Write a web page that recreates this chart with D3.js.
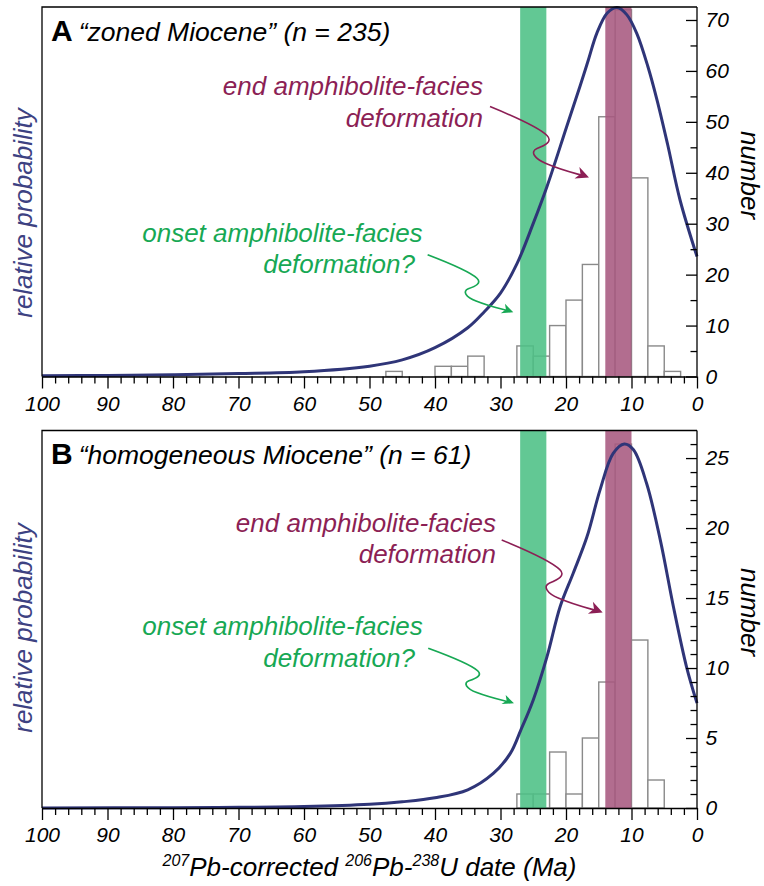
<!DOCTYPE html>
<html><head><meta charset="utf-8">
<script src="https://cdn.jsdelivr.net/npm/d3@7"></script>
<style>
body{margin:0;background:#fff;}
svg text{font-family:"Liberation Sans",Arial,Helvetica,sans-serif;}
</style></head><body>
<svg id="chart" width="764" height="886"></svg>
<script>
// ---------------- DATA ----------------
// histogram bins (upper edge of each 2.5 Ma bin, Ma)
const binUpper = [50,47.5,45,42.5,40,37.5,35,32.5,30,27.5,25,22.5,20,17.5,15,12.5,10,7.5,5,2.5];
const binWidth = 2.5;
const countsA = [0,1,0,0,2,2,4,0,0,6,4,10,15,22,51,72,39,6,1,0];
const countsB = [0,0,0,0,0,0,0,0,0,1,1,4,1,5,9,26,12,2,0,0];

// relative probability curves (age in Ma, probability relative to peak)
const curveAgeA  = [100,90,80,70,60,50,45,40,35,32.5,30,27.5,25,22.9,19.9,17.8,16.6,15.3,13.7,12.2,10.7,9.2,7.5,6.1,4.5,2.6,0];
const curveProbA = [0.002,0.003,0.005,0.008,0.013,0.028,0.045,0.078,0.132,0.175,0.226,0.305,0.415,0.515,0.677,0.79,0.857,0.93,0.985,1.0,0.98,0.93,0.84,0.749,0.63,0.479,0.325];
const curveAgeB  = [100,80,70,60,50,45,40,35,31.1,28.5,26.9,25,22.9,20.9,18.9,16.8,14.8,12.8,11.1,9.7,7.7,5.6,3.6,1.6,0];
const curveProbB = [0,0.001,0.002,0.004,0.010,0.017,0.028,0.05,0.095,0.15,0.214,0.297,0.416,0.553,0.645,0.745,0.874,0.974,1.0,0.984,0.892,0.736,0.553,0.388,0.288];

// axis ticks
const xTicksMajor = [100,90,80,70,60,50,40,30,20,10,0];
const yTicksA = [0,10,20,30,40,50,60,70];
const yTicksB = [0,5,10,15,20,25];

// deformation bands (Ma)
const bandOnset = [27,23];
const bandEnd = [14,10];

// titles
const panelLetters = ["A","B"];
const panelTitles = ["\u201Czoned Miocene\u201D (n = 235)","\u201Chomogeneous Miocene\u201D (n = 61)"];

// ---------------- DRAW ----------------
const svg = d3.select('#chart');
svg.append('rect').attr('width',764).attr('height',886).attr('fill','#fff');

const L = 42, R = 697;
const x = d3.scaleLinear().domain([100,0]).range([L,R]);

const navy = '#2f3578';
const green = '#4cc085', purple = '#a7597f';
const greenText = '#17a854', purpleText = '#8c1f55';

const panels = [
  {top:7, bottom:376.5, yMax:72.55, counts:countsA, age:curveAgeA, prob:curveProbA, peakY:7.5,
   yTicks:yTicksA, minorStep:5, yMinorMax:70, letter:panelLetters[0], title:panelTitles[0], titleY:41, probLabelY:213, numLabelY:175,
   ann:[
     {tip:[16.49,39.07], sx:1.0, sy:1.0, color:purpleText, lines:["end amphibolite-facies","deformation"], dx:[-7,-7], dy:[-11.5,20.2]},
     {tip:[28.05,12.6], sx:0.865, sy:0.81, color:greenText, lines:["onset amphibolite-facies","deformation?"], dx:[-5,-12.7], dy:[-13,18.5]}
   ]},
  {top:430.5, bottom:808, yMax:26.97, counts:countsB, age:curveAgeB, prob:curveProbB, peakY:444,
   yTicks:yTicksB, minorStep:1, yMinorMax:26, letter:panelLetters[1], title:panelTitles[1], titleY:464, probLabelY:628, numLabelY:612,
   ann:[
     {tip:[14.40,13.96], sx:1.02, sy:1.024, color:purpleText, lines:["end amphibolite-facies","deformation"], dx:[-5.7,-5.7], dy:[-7.5,23.3]},
     {tip:[27.94,7.48], sx:0.866, sy:0.775, color:greenText, lines:["onset amphibolite-facies","deformation?"], dx:[-5.6,-13.3], dy:[-13.3,19.2]}
   ]}
];

// base arrow shape: start at (0,0), tip at (99,71)
const arrowPath = "M0,0 C22,9 48,20 57,29 C63,35 55,39 47,42 C40,45 44,52 56,57 C70,63 82,66 91,68.5";
const arrowHead = "M99,71 L84.5,72 L90.5,67.6 L89.4,60.4 Z";

panels.forEach(p => {
  const g = svg.append('g');
  const y = d3.scaleLinear().domain([0,p.yMax]).range([p.bottom,p.top]);
  const yp = d3.scaleLinear().domain([0,1]).range([p.bottom,p.peakY]);

  // histogram bars
  const bars = binUpper.map((u,i)=>({hi:u, lo:u-binWidth, c:p.counts[i]})).filter(d=>d.c>0);
  g.append('g').selectAll('rect').data(bars).join('rect')
    .attr('x', d=>x(d.hi)).attr('width', d=>x(d.lo)-x(d.hi))
    .attr('y', d=>y(d.c)).attr('height', d=>y(0)-y(d.c))
    .attr('fill','#fff').attr('stroke','#8a8a8a').attr('stroke-width',1.4);

  // bands
  [[bandOnset,green],[bandEnd,purple]].forEach(([b,c])=>{
    g.append('rect').attr('x',x(b[0])).attr('width',x(b[1])-x(b[0]))
      .attr('y',p.top).attr('height',p.bottom-p.top)
      .attr('fill',c).attr('fill-opacity',0.88);
  });

  // curve
  const pts = p.age.map((a,i)=>[a,p.prob[i]]);
  g.append('path').datum(pts)
    .attr('d', d3.line().x(d=>x(d[0])).y(d=>yp(d[1])).curve(d3.curveCatmullRom.alpha(0.5)))
    .attr('fill','none').attr('stroke',navy).attr('stroke-width',3).attr('stroke-linejoin','round');

  // frame: left & top
  g.append('path').attr('d',`M${L},${p.bottom}V${p.top}H${R}`).attr('fill','none').attr('stroke','#000').attr('stroke-width',1.3);

  // bottom axis
  const xMinor = d3.range(0,101,2).filter(v=>v%10!==0);
  const axM = g.append('g').attr('transform',`translate(0,${p.bottom})`)
    .call(d3.axisBottom(x).tickValues(xTicksMajor).tickSize(12).tickSizeOuter(0).tickPadding(7.3).tickFormat(d3.format('d')));
  const axm = g.append('g').attr('transform',`translate(0,${p.bottom})`)
    .call(d3.axisBottom(x).tickValues(xMinor).tickSize(7).tickFormat(''));
  axm.select('.domain').remove();
  // right axis
  const yMinor = d3.range(0,p.yMinorMax+0.001,p.minorStep).filter(v=>!p.yTicks.includes(v));
  const ayM = g.append('g').attr('transform',`translate(${R},0)`)
    .call(d3.axisRight(y).tickValues(p.yTicks).tickSize(-11).tickSizeOuter(0).tickPadding(8.5).tickFormat(d3.format('d')));
  const aym = g.append('g').attr('transform',`translate(${R},0)`)
    .call(d3.axisRight(y).tickValues(yMinor).tickSize(-6.5).tickFormat(''));
  aym.select('.domain').remove();
  [axM,axm,ayM,aym].forEach(a=>{
    a.selectAll('line').attr('stroke','#000').attr('stroke-width',1.3);
    a.selectAll('.domain').attr('stroke','#000').attr('stroke-width',1.3);
    a.selectAll('text').attr('fill','#000').style('font-size','21px').style('font-style','italic');
  });
  ayM.select('.domain').attr('d',`M0,${p.top}V${p.bottom}`);

  // titles
  const t = g.append('text').attr('x',51).attr('y',p.titleY).attr('fill','#000');
  t.append('tspan').text(p.letter).style('font-weight','bold').style('font-size','30px');
  t.append('tspan').attr('dx',6).text(p.title).style('font-style','italic').style('font-size','26.5px');

  // axis labels
  g.append('text').attr('transform',`translate(32,${p.probLabelY}) rotate(-90)`)
    .attr('text-anchor','middle').attr('fill','#3d4282')
    .style('font-size','26px').style('font-style','italic').text('relative probability');
  g.append('text').attr('transform',`translate(741,${p.numLabelY}) rotate(90)`)
    .attr('text-anchor','middle').attr('fill','#000')
    .style('font-size','26px').style('font-style','italic').text('number');

  // annotations
  p.ann.forEach(a=>{
    const tx = x(a.tip[0]), ty = y(a.tip[1]);
    const sx0 = tx - 99*a.sx, sy0 = ty - 71*a.sy;
    const ag = g.append('g').attr('transform',`translate(${sx0},${sy0}) scale(${a.sx},${a.sy})`);
    ag.append('path').attr('d',arrowPath).attr('fill','none').attr('stroke',a.color).attr('stroke-width',1.6/Math.min(a.sx,a.sy));
    ag.append('path').attr('d',arrowHead).attr('fill',a.color);
    a.lines.forEach((ln,i)=>{
      g.append('text').attr('x',sx0+a.dx[i]).attr('y',sy0+a.dy[i]).attr('text-anchor','end')
        .attr('fill',a.color).style('font-size','26px').style('font-style','italic').text(ln);
    });
  });
});

// x-axis title
const xt = svg.append('text').attr('x',369.5).attr('y',876).attr('text-anchor','middle')
  .attr('fill','#000').style('font-size','26px').style('font-style','italic');
const parts = [["207",true],["Pb-corrected ",false],["206",true],["Pb-",false],["238",true],["U date (Ma)",false]];
let prevSup = false;
parts.forEach(([s,sup])=>{
  const ts = xt.append('tspan').text(s);
  if (sup) ts.style('font-size','16px').attr('dy', prevSup?0:-10);
  else ts.attr('dy', prevSup?10:0);
  prevSup = sup;
});
</script>
</body></html>
